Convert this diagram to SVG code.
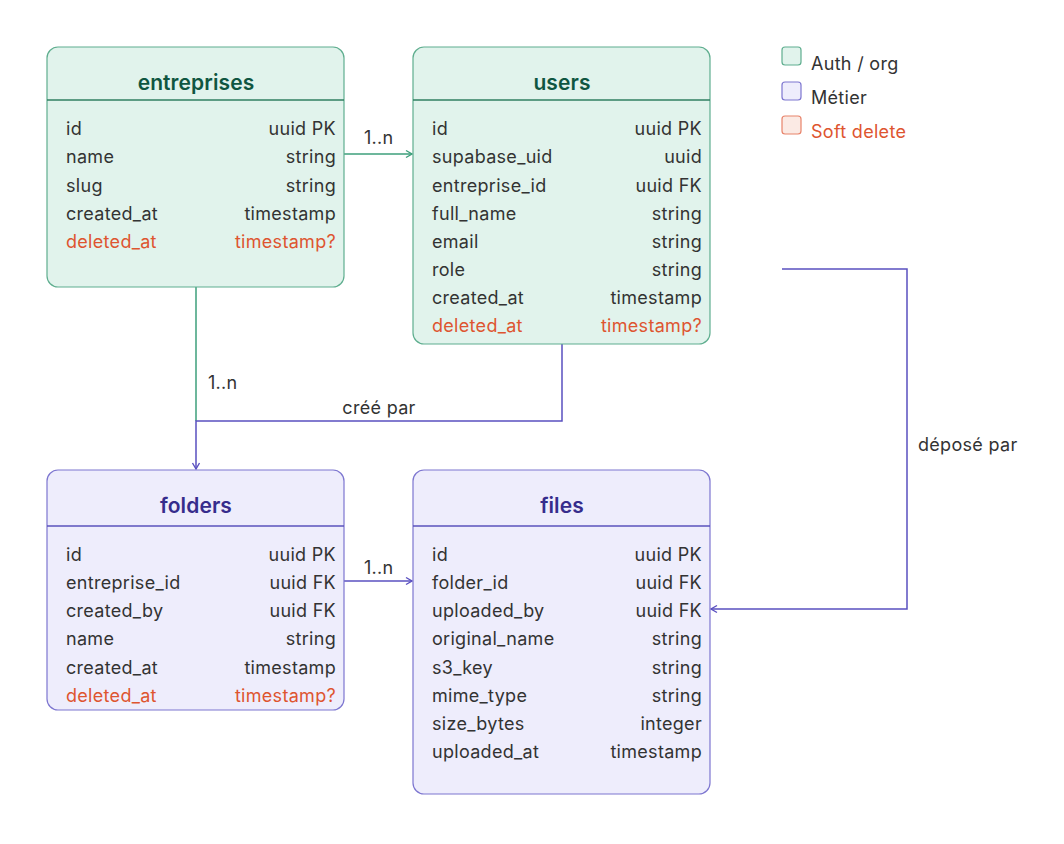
<svg xmlns="http://www.w3.org/2000/svg" width="1064" height="844" viewBox="0 0 1064 844">
<defs>
<style>
text{font-family:Inter,"Noto Sans","Liberation Sans",sans-serif;}
.g rect.box{fill:#e1f3ec;stroke:#5fae8f;stroke-width:1.2;}
.g line.sep{stroke:#2f7f62;stroke-width:1.5;}
.g .title{fill:#0f5641;}
.p rect.box{fill:#eeedfc;stroke:#7d76d0;stroke-width:1.2;}
.p line.sep{stroke:#5a52bd;stroke-width:1.5;}
.p .title{fill:#362c8c;}
.title{font-size:21px;font-weight:600;text-anchor:middle;letter-spacing:0.1px;}
.f{font-size:18px;fill:#333333;letter-spacing:0.3px;}
.r{text-anchor:end;}
.d{fill:#de5530;}
.lbl{font-size:18px;fill:#333333;letter-spacing:0.3px;}
.cg{fill:none;stroke:#3d9f7b;stroke-width:1.5;}
.cp{fill:none;stroke:#5a50c0;stroke-width:1.5;}
</style>
<marker id="ag" viewBox="0 0 10 10" refX="9" refY="5" markerWidth="10" markerHeight="10" markerUnits="userSpaceOnUse" orient="auto">
<polyline points="3,1.5 9,5 3,8.5" fill="none" stroke="#3d9f7b" stroke-width="1.4"/>
</marker>
<marker id="ap" viewBox="0 0 10 10" refX="9" refY="5" markerWidth="10" markerHeight="10" markerUnits="userSpaceOnUse" orient="auto">
<polyline points="3,1.5 9,5 3,8.5" fill="none" stroke="#5a50c0" stroke-width="1.4"/>
</marker>
</defs>
<rect width="1064" height="844" fill="#ffffff"/>

<g id="connectors">
<path class="cg" d="M344,154 H412" marker-end="url(#ag)"/>
<text class="lbl" x="364" y="144">1..n</text>
<path class="cg" d="M196,287 V421"/>
<text class="lbl" x="208" y="389">1..n</text>
<path class="cp" d="M562,344 V421 H196 V469" marker-end="url(#ap)"/>
<text class="lbl" x="379" y="414" text-anchor="middle">créé par</text>
<path class="cp" d="M344,581 H412" marker-end="url(#ap)"/>
<text class="lbl" x="364" y="574">1..n</text>
<path class="cp" d="M782,269 H907 V609 H711" marker-end="url(#ap)"/>
<text class="lbl" x="918" y="451">déposé par</text>
</g>

<g id="entreprises" class="g">
<rect class="box" x="47" y="47" width="297" height="240" rx="11"/>
<line class="sep" x1="47" y1="100" x2="344" y2="100"/>
<text class="title" x="196" y="90">entreprises</text>
<text class="f" x="66" y="135">id</text><text class="f r" x="336" y="135">uuid PK</text>
<text class="f" x="66" y="163">name</text><text class="f r" x="336" y="163">string</text>
<text class="f" x="66" y="192">slug</text><text class="f r" x="336" y="192">string</text>
<text class="f" x="66" y="220">created_at</text><text class="f r" x="336" y="220">timestamp</text>
<text class="f d" x="66" y="248">deleted_at</text><text class="f r d" x="336" y="248">timestamp?</text>
</g>

<g id="users" class="g">
<rect class="box" x="413" y="47" width="297" height="297" rx="11"/>
<line class="sep" x1="413" y1="100" x2="710" y2="100"/>
<text class="title" x="562" y="90">users</text>
<text class="f" x="432" y="135">id</text><text class="f r" x="702" y="135">uuid PK</text>
<text class="f" x="432" y="163">supabase_uid</text><text class="f r" x="702" y="163">uuid</text>
<text class="f" x="432" y="192">entreprise_id</text><text class="f r" x="702" y="192">uuid FK</text>
<text class="f" x="432" y="220">full_name</text><text class="f r" x="702" y="220">string</text>
<text class="f" x="432" y="248">email</text><text class="f r" x="702" y="248">string</text>
<text class="f" x="432" y="276">role</text><text class="f r" x="702" y="276">string</text>
<text class="f" x="432" y="304">created_at</text><text class="f r" x="702" y="304">timestamp</text>
<text class="f d" x="432" y="332">deleted_at</text><text class="f r d" x="702" y="332">timestamp?</text>
</g>

<g id="folders" class="p">
<rect class="box" x="47" y="470" width="297" height="240" rx="11"/>
<line class="sep" x1="47" y1="526" x2="344" y2="526"/>
<text class="title" x="196" y="513">folders</text>
<text class="f" x="66" y="561">id</text><text class="f r" x="336" y="561">uuid PK</text>
<text class="f" x="66" y="589">entreprise_id</text><text class="f r" x="336" y="589">uuid FK</text>
<text class="f" x="66" y="617">created_by</text><text class="f r" x="336" y="617">uuid FK</text>
<text class="f" x="66" y="645">name</text><text class="f r" x="336" y="645">string</text>
<text class="f" x="66" y="674">created_at</text><text class="f r" x="336" y="674">timestamp</text>
<text class="f d" x="66" y="702">deleted_at</text><text class="f r d" x="336" y="702">timestamp?</text>
</g>

<g id="files" class="p">
<rect class="box" x="413" y="470" width="297" height="324" rx="11"/>
<line class="sep" x1="413" y1="526" x2="710" y2="526"/>
<text class="title" x="562" y="513">files</text>
<text class="f" x="432" y="561">id</text><text class="f r" x="702" y="561">uuid PK</text>
<text class="f" x="432" y="589">folder_id</text><text class="f r" x="702" y="589">uuid FK</text>
<text class="f" x="432" y="617">uploaded_by</text><text class="f r" x="702" y="617">uuid FK</text>
<text class="f" x="432" y="645">original_name</text><text class="f r" x="702" y="645">string</text>
<text class="f" x="432" y="674">s3_key</text><text class="f r" x="702" y="674">string</text>
<text class="f" x="432" y="702">mime_type</text><text class="f r" x="702" y="702">string</text>
<text class="f" x="432" y="730">size_bytes</text><text class="f r" x="702" y="730">integer</text>
<text class="f" x="432" y="758">uploaded_at</text><text class="f r" x="702" y="758">timestamp</text>
</g>

<g id="legend">
<rect x="782" y="47" width="19" height="18" rx="3" fill="#e1f3ec" stroke="#5fae8f" stroke-width="1.2"/>
<text class="f" x="811" y="70">Auth / org</text>
<rect x="782" y="82" width="19" height="18" rx="3" fill="#eeedfc" stroke="#7d76d0" stroke-width="1.2"/>
<text class="f" x="811" y="104">Métier</text>
<rect x="782" y="116" width="19" height="18" rx="3" fill="#fbeae4" stroke="#e8836a" stroke-width="1.2"/>
<text class="f d" x="811" y="138">Soft delete</text>
</g>
</svg>
